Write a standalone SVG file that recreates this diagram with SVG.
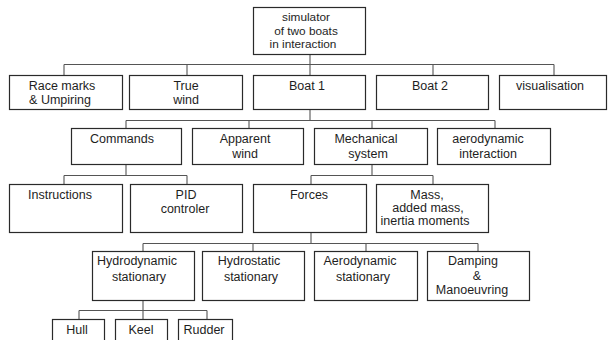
<svg xmlns="http://www.w3.org/2000/svg" width="608" height="340" viewBox="0 0 608 340">
<style>
rect{fill:#fff;stroke:#2a2a2a;stroke-width:1.2}
.c path{fill:none;stroke:#555;stroke-width:1.1}
text{font-family:"Liberation Sans",Arial,sans-serif;font-size:12.5px;fill:#1e1e1e;text-anchor:middle}
.t{font-size:11.8px}
</style>
<rect x="0" y="0" width="608" height="340" style="stroke:none"/>
<g class="c" id="connectors">
<path d="M310 54V64.5M64 64.5H554M64 64.5V75M187 64.5V75M310 64.5V75M433 64.5V75M554 64.5V75"/>
<path d="M310 109V120.5M126 120.5H495M126 120.5V128M249 120.5V128M372 120.5V128M495 120.5V128"/>
<path d="M126 164V175.5M64 175.5H187M64 175.5V184M187 175.5V184"/>
<path d="M372 164V175.5M311 175.5H433M311 175.5V184M433 175.5V184"/>
<path d="M311 232V243.5M143 243.5H478M143 243.5V251M253 243.5V251M366 243.5V251M478 243.5V251"/>
<path d="M143 300V310.5M79 310.5H207M79 310.5V319M143 310.5V319M207 310.5V319"/>
</g>
<g id="simulator"><rect x="253.5" y="7.5" width="112" height="47"/><text class="t" x="306" y="21">simulator</text><text class="t" x="306" y="34.5">of two boats</text><text class="t" x="303" y="48">in interaction</text></g>
<g id="race"><rect x="9.5" y="75.5" width="113" height="34"/><text x="62" y="90">Race marks</text><text x="60" y="103.5">&amp; Umpiring</text></g>
<g id="truewind"><rect x="129.5" y="75.5" width="113" height="34"/><text x="186" y="90">True</text><text x="186" y="103.5">wind</text></g>
<g id="boat1"><rect x="253.5" y="75.5" width="112" height="34"/><text x="307" y="90">Boat 1</text></g>
<g id="boat2"><rect x="376.5" y="75.5" width="112" height="34"/><text x="430" y="90">Boat 2</text></g>
<g id="visualisation"><rect x="499.5" y="75.5" width="107" height="34"/><text x="550" y="90">visualisation</text></g>
<g id="commands"><rect x="71.5" y="128.5" width="110" height="36"/><text x="122" y="143">Commands</text></g>
<g id="apparent"><rect x="192.5" y="128.5" width="111" height="36"/><text x="245" y="143">Apparent</text><text x="245" y="158">wind</text></g>
<g id="mechanical"><rect x="314.5" y="128.5" width="113" height="36"/><text x="366" y="143">Mechanical</text><text x="368" y="158">system</text></g>
<g id="aerointeraction"><rect x="437.5" y="128.5" width="113" height="36"/><text x="488" y="143">aerodynamic</text><text x="488" y="158">interaction</text></g>
<g id="instructions"><rect x="9.5" y="184.5" width="113" height="48"/><text x="60" y="199">Instructions</text></g>
<g id="pid"><rect x="130.5" y="184.5" width="112" height="48"/><text x="186" y="199">PID</text><text x="185" y="213">controler</text></g>
<g id="forces"><rect x="253.5" y="184.5" width="113" height="48"/><text x="309" y="199">Forces</text></g>
<g id="mass"><rect x="376.5" y="184.5" width="112" height="48"/><text x="427" y="199">Mass,</text><text x="428" y="212">added mass,</text><text x="425" y="225">inertia moments</text></g>
<g id="hydrodynamic"><rect x="92.5" y="251.5" width="102" height="49"/><text x="137" y="265">Hydrodynamic</text><text x="139" y="281">stationary</text></g>
<g id="hydrostatic"><rect x="202.5" y="251.5" width="102" height="49"/><text x="249" y="265">Hydrostatic</text><text x="251" y="281">stationary</text></g>
<g id="aerodynamic"><rect x="314.5" y="251.5" width="103" height="49"/><text x="360" y="265">Aerodynamic</text><text x="363" y="281">stationary</text></g>
<g id="damping"><rect x="427.5" y="251.5" width="102" height="49"/><text x="473" y="265">Damping</text><text x="477" y="280">&amp;</text><text x="472" y="294">Manoeuvring</text></g>
<g id="hull"><rect x="52.5" y="319.5" width="52" height="30"/><text x="77" y="334">Hull</text></g>
<g id="keel"><rect x="115.5" y="319.5" width="52" height="30"/><text x="141" y="334">Keel</text></g>
<g id="rudder"><rect x="178.5" y="319.5" width="54" height="30"/><text x="204" y="334">Rudder</text></g>
</svg>
